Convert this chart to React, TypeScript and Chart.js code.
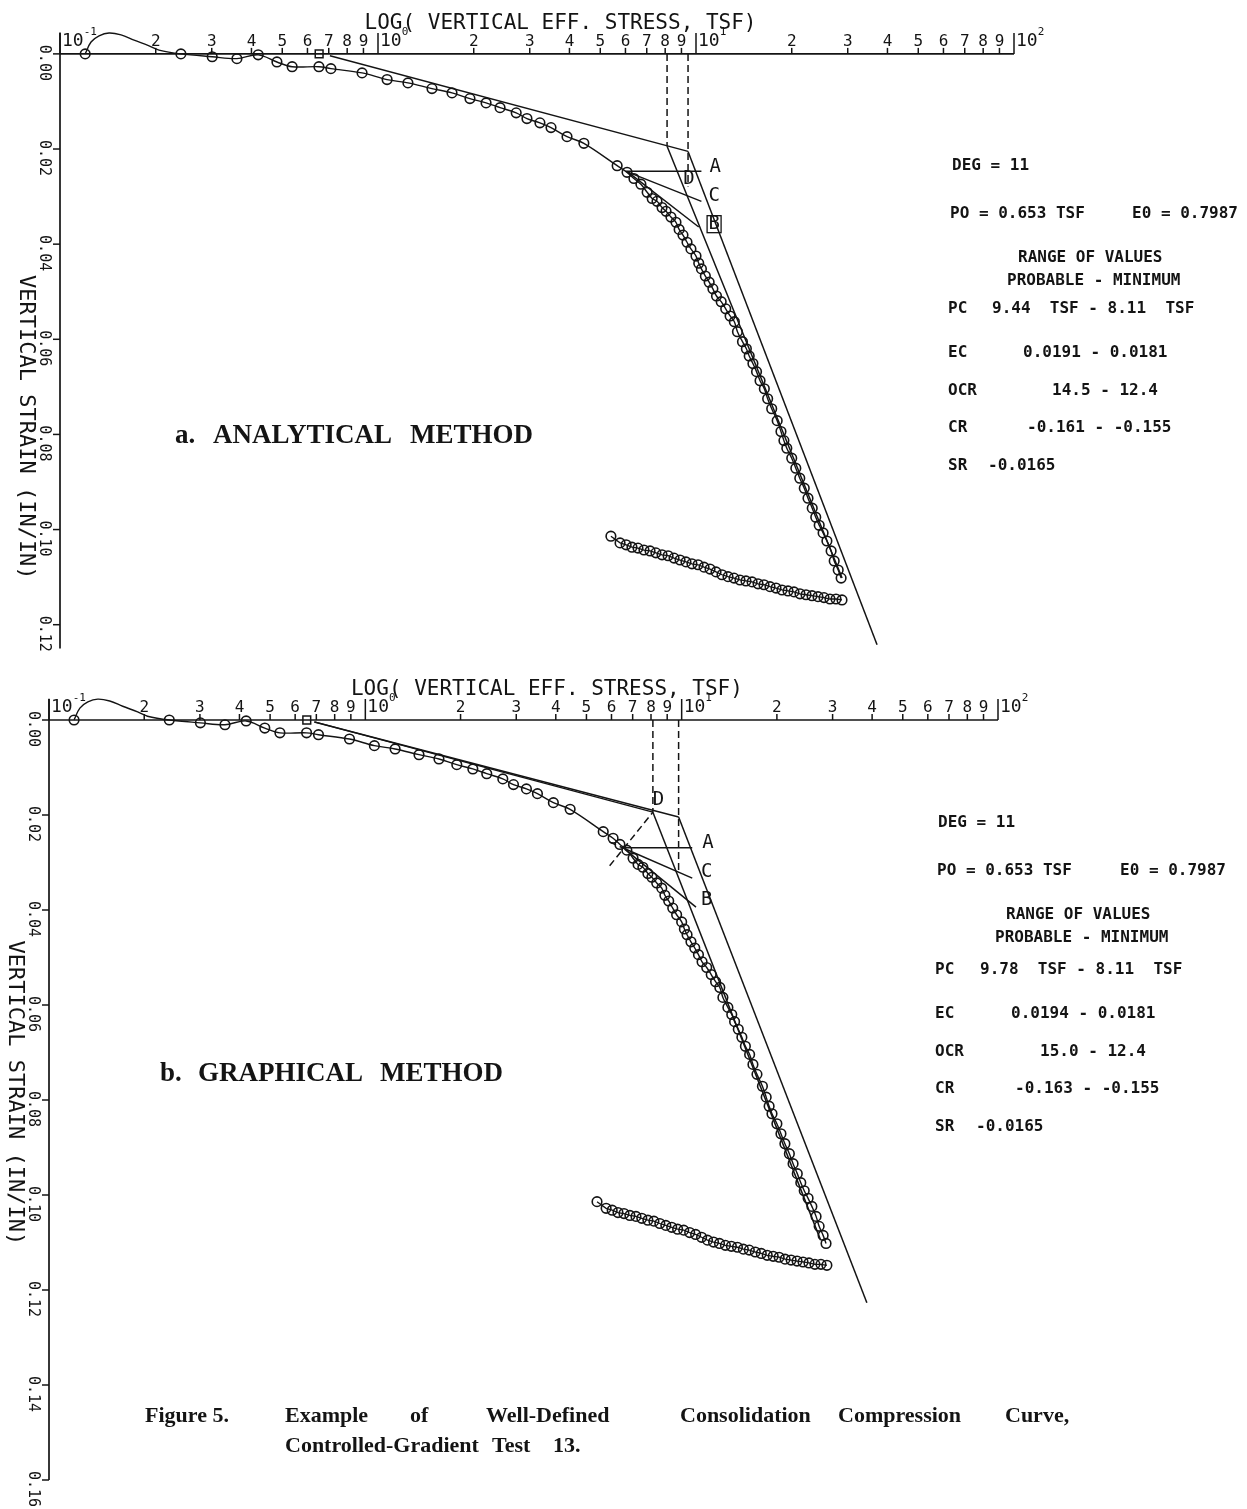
import React, { useEffect, useRef } from "react";
import { Chart, registerables } from "chart.js";

Chart.register(...registerables);

// ---------------- data ----------------
// Loading branch: effective vertical stress (TSF) / vertical strain (in/in)
const loadStress = [
  0.12, 0.24, 0.301, 0.36, 0.42, 0.481, 0.537, 0.652, 0.711, 0.891, 1.068, 1.242, 1.478,
  1.709, 1.946, 2.187, 2.42, 2.72, 2.94, 3.23, 3.5, 3.93, 4.44, 5.65, 6.07, 6.38,
  6.71, 7.02, 7.28, 7.54, 7.82, 8.05, 8.34, 8.65, 8.85, 9.1, 9.37, 9.64, 10.0, 10.2, 10.4,
  10.7, 11.0, 11.3, 11.6, 12.0, 12.4, 12.8, 13.2, 13.5, 14.0, 14.4, 14.7, 15.1, 15.5, 15.9,
  16.4, 16.8, 17.3, 18.0, 18.5, 18.9, 19.3, 20.0, 20.6, 21.2, 21.9, 22.5, 23.2, 23.8, 24.4,
  25.1, 25.8, 26.6, 27.2, 28.0, 28.6,
];
const loadStrain = [
  0.0, 0.0, 0.0006, 0.001, 0.0002, 0.0017, 0.0027, 0.0027, 0.0031, 0.004, 0.0054, 0.0061, 0.0073,
  0.0082, 0.0094, 0.0103, 0.0113, 0.0124, 0.0136, 0.0145, 0.0155, 0.0174, 0.0188, 0.0235, 0.0249, 0.0262,
  0.0274, 0.0291, 0.0304, 0.031, 0.0323, 0.0331, 0.0343, 0.0354, 0.0369, 0.0381, 0.0396, 0.041, 0.0425, 0.044, 0.0452,
  0.0467, 0.048, 0.0494, 0.0509, 0.0521, 0.0536, 0.0551, 0.0563, 0.0584, 0.0605, 0.062, 0.0635, 0.0651, 0.0668, 0.0687,
  0.0704, 0.0725, 0.0746, 0.0771, 0.0794, 0.0813, 0.0829, 0.085, 0.0871, 0.0892, 0.0913, 0.0934, 0.0955, 0.0974, 0.0991,
  0.1007, 0.1024, 0.1045, 0.1066, 0.1085, 0.1102,
];
// Overshoot of the plotted smoothing curve at the start of the test
const bumpStress = [0.12, 0.1252, 0.1327, 0.1426, 0.1556, 0.171, 0.1906, 0.2048, 0.24];
const bumpStrain = [0.0, -0.0025, -0.0038, -0.0044, -0.004, -0.0029, -0.0017, -0.0008, 0.0];
// Unloading (rebound) branch
const unloadStress = [
  5.4, 5.77, 6.03, 6.29, 6.57, 6.86, 7.17, 7.48, 7.82, 8.17, 8.53, 8.91, 9.3, 9.71, 10.15,
  10.6, 11.07, 11.56, 12.07, 12.61, 13.17, 13.75, 14.36, 15.01, 15.67, 16.36, 17.09, 17.85,
  18.64, 19.47, 20.33, 21.23, 22.18, 23.16, 24.19, 25.26, 26.38, 27.56, 28.78,
];
const unloadStrain = [
  0.1014, 0.1028, 0.1032, 0.1037, 0.1039, 0.1043, 0.1045, 0.1049, 0.1053, 0.1055, 0.106, 0.1064,
  0.1068, 0.1072, 0.1074, 0.1079, 0.1083, 0.1089, 0.1095, 0.1099, 0.1102, 0.1106, 0.1108, 0.111,
  0.1114, 0.1116, 0.112, 0.1123, 0.1127, 0.1129, 0.1131, 0.1135, 0.1137, 0.1139, 0.1141, 0.1143,
  0.1146, 0.1146, 0.1148,
];
// In-situ overburden stress marker (PO)
const poStress = [0.653];
const poStrain = [0.0];

// ---------------- axis ticks ----------------
const decadeExps = [-1, 0, 1, 2];
const decadeExpLabels = ["-1", "0", "1", "2"];
const minorMultipliers = [2, 3, 4, 5, 6, 7, 8, 9];
const minorLabels = ["2", "3", "4", "5", "6", "7", "8", "9"];
const topStrainTicks = [0, 0.02, 0.04, 0.06, 0.08, 0.1, 0.12];
const topStrainLabels = ["0.00", "0.02", "0.04", "0.06", "0.08", "0.10", "0.12"];
const botStrainTicks = [0, 0.02, 0.04, 0.06, 0.08, 0.1, 0.12, 0.14, 0.16];
const botStrainLabels = ["0.00", "0.02", "0.04", "0.06", "0.08", "0.10", "0.12", "0.14", "0.16"];
const xTitle = "LOG( VERTICAL EFF. STRESS, TSF)";
const yTitle = "VERTICAL STRAIN (IN/IN)";

// ---------------- construction lines (stress, strain) ----------------
// a. analytical method
const aRecompStress = [0.706, 9.44];
const aRecompStrain = [0.0004, 0.0205];
const aVirginMinStress = [8.11, 28.8];
const aVirginMinStrain = [0.0194, 0.1102];
const aVirginProbStress = [9.44, 37.1];
const aVirginProbStrain = [0.0205, 0.1242];
const aHorizStress = [6.03, 10.4];
const aHorizStrain = [0.0247, 0.0247];
const aTangentStress = [6.03, 10.4];
const aTangentStrain = [0.0247, 0.031];
const aLineBStress = [6.07, 10.2];
const aLineBStrain = [0.0247, 0.0364];
const aDashMinStress = [8.11, 8.11];
const aDashMinStrain = [0.0, 0.0194];
const aDashProbStress = [9.44, 9.44];
const aDashProbStrain = [0.0, 0.0279];
// b. graphical method
const bRecompMinStress = [0.69, 8.11];
const bRecompMinStrain = [0.0004, 0.0194];
const bRecompProbStress = [0.69, 9.78];
const bRecompProbStrain = [0.0004, 0.0204];
const bVirginMinStress = [8.11, 27.5];
const bVirginMinStrain = [0.0194, 0.1095];
const bVirginProbStress = [9.78, 38.5];
const bVirginProbStrain = [0.0204, 0.1227];
const bHorizStress = [6.5, 10.8];
const bHorizStrain = [0.0269, 0.0269];
const bTangentStress = [6.5, 10.8];
const bTangentStrain = [0.0269, 0.0333];
const bTangentBackStress = [5.92, 6.5];
const bTangentBackStrain = [0.0257, 0.0269];
const bLineBStress = [6.6, 11.1];
const bLineBStrain = [0.0272, 0.0394];
const bDiagStress = [5.92, 8.11];
const bDiagStrain = [0.0307, 0.0194];
const bDashMinStress = [8.11, 8.11];
const bDashMinStrain = [0.0, 0.0194];
const bDashProbStress = [9.78, 9.78];
const bDashProbStrain = [0.0, 0.0322];

// ---------------- text of the result blocks ----------------
const degText = "DEG = 11";
const poText = "PO = 0.653 TSF";
const e0Text = "E0 = 0.7987";
const rangeTitles = ["RANGE OF VALUES", "PROBABLE - MINIMUM"];
const paramNames = ["PC", "EC", "OCR", "CR", "SR"];
const aParamValues = ["9.44  TSF - 8.11  TSF", "0.0191 - 0.0181", "14.5 - 12.4", "-0.161 - -0.155", "-0.0165"];
const bParamValues = ["9.78  TSF - 8.11  TSF", "0.0194 - 0.0181", "15.0 - 12.4", "-0.163 - -0.155", "-0.0165"];
const aMethodWords = ["a.", "ANALYTICAL", "METHOD"];
const bMethodWords = ["b.", "GRAPHICAL", "METHOD"];
const captionLine1 = ["Figure 5.", "Example", "of", "Well-Defined", "Consolidation", "Compression", "Curve,"];
const captionLine2 = ["Controlled-Gradient", "Test", "13."];

const INK = "#141414";
const MONO = "'DejaVu Sans Mono', 'Liberation Mono', monospace";
const SERIF = "'Liberation Serif', 'Times New Roman', serif";

type Pt = { x: number; y: number };
const pts = (xs: number[], ys: number[]): Pt[] => xs.map((x, i) => ({ x, y: ys[i] }));

interface Letter { t: string; x: number; y: number; boxed?: boolean }
interface Panel {
  key: string;
  top: number;
  height: number;
  pad: { left: number; right: number; top: number; bottom: number };
  yMin: number;
  yMax: number;
  yAxisTop: number;
  yAxisEnd: number;
  ticks: number[];
  tickLabels: string[];
  lines: { xs: number[]; ys: number[]; dash?: boolean }[];
  letters: Letter[];
  block: {
    deg: [number, number];
    po: [number, number];
    e0: [number, number];
    range: [number, number][];
    nameX: number;
    valueX: number[];
    rowY: number[];
    values: string[];
  };
  method: { words: string[]; x: number[]; y: number };
  caption: boolean;
}

function seg(ctx: CanvasRenderingContext2D, x1: number, y1: number, x2: number, y2: number) {
  ctx.beginPath();
  ctx.moveTo(x1, y1);
  ctx.lineTo(x2, y2);
  ctx.stroke();
}

function makePlugin(panel: Panel) {
  return {
    id: "plotter_" + panel.key,
    beforeDatasetsDraw(chart: any) {
      const ctx: CanvasRenderingContext2D = chart.ctx;
      const xs = chart.scales.x;
      const ys = chart.scales.y;
      const X = (v: number) => xs.getPixelForValue(v);
      const Y = (v: number) => ys.getPixelForValue(v);
      const y0 = Y(0);
      const xL = X(0.1);
      const xR = X(100);
      ctx.save();
      ctx.strokeStyle = INK;
      ctx.fillStyle = INK;
      ctx.lineWidth = 1.7;
      // axes lines
      seg(ctx, xL, y0, xR, y0);
      seg(ctx, xL, Y(panel.yAxisTop), xL, Y(panel.yAxisEnd));
      // x ticks
      decadeExps.forEach((e, i) => {
        const dv = Math.pow(10, e);
        const px = X(dv);
        ctx.lineWidth = 1.5;
        seg(ctx, px, y0, px, y0 - 21);
        ctx.textAlign = "left";
        ctx.textBaseline = "alphabetic";
        ctx.font = `18px ${MONO}`;
        ctx.fillText("10", px + 2, y0 - 8);
        const w = ctx.measureText("10").width;
        ctx.font = `11px ${MONO}`;
        ctx.fillText(decadeExpLabels[i], px + 2 + w, y0 - 19);
        if (e < 2) {
          minorMultipliers.forEach((m, j) => {
            const mx = X(m * dv);
            seg(ctx, mx, y0, mx, y0 - 6);
            ctx.font = `16px ${MONO}`;
            ctx.textAlign = "center";
            ctx.fillText(minorLabels[j], mx, y0 - 8);
          });
        }
      });
      // y ticks
      panel.ticks.forEach((v, i) => {
        const py = Y(v);
        ctx.lineWidth = 1.5;
        seg(ctx, xL - 7, py, xL, py);
        ctx.save();
        ctx.translate(xL - 16, py + 9);
        ctx.rotate(Math.PI / 2);
        ctx.font = `15px ${MONO}`;
        ctx.textAlign = "center";
        ctx.textBaseline = "middle";
        ctx.fillText(panel.tickLabels[i], 0, 0);
        ctx.restore();
      });
      // axis titles
      ctx.font = `21px ${MONO}`;
      ctx.textAlign = "center";
      ctx.textBaseline = "alphabetic";
      ctx.fillText(xTitle, X(3.75), y0 - 25);
      ctx.save();
      ctx.translate(xL - 34, Y(0.0785));
      ctx.rotate(Math.PI / 2);
      ctx.font = `22px ${MONO}`;
      ctx.textBaseline = "middle";
      ctx.fillText(yTitle, 0, 0);
      ctx.restore();
      ctx.restore();
    },
    afterDatasetsDraw(chart: any) {
      const ctx: CanvasRenderingContext2D = chart.ctx;
      const xs = chart.scales.x;
      const ys = chart.scales.y;
      ctx.save();
      ctx.fillStyle = INK;
      ctx.strokeStyle = INK;
      ctx.lineWidth = 1.3;
      // construction letters
      ctx.font = `19px ${MONO}`;
      ctx.textAlign = "center";
      ctx.textBaseline = "middle";
      panel.letters.forEach((l) => {
        const lx = xs.getPixelForValue(l.x);
        const ly = ys.getPixelForValue(l.y);
        ctx.fillText(l.t, lx, ly);
        if (l.boxed) ctx.strokeRect(lx - 7, ly - 8.5, 14, 17);
      });
      // result block
      const b = panel.block;
      ctx.textAlign = "left";
      ctx.textBaseline = "alphabetic";
      ctx.font = `bold 16px ${MONO}`;
      ctx.fillText(degText, b.deg[0], b.deg[1]);
      ctx.fillText(poText, b.po[0], b.po[1]);
      ctx.fillText(e0Text, b.e0[0], b.e0[1]);
      rangeTitles.forEach((t, i) => ctx.fillText(t, b.range[i][0], b.range[i][1]));
      paramNames.forEach((n, i) => {
        ctx.fillText(n, b.nameX, b.rowY[i]);
        ctx.fillText(b.values[i], b.valueX[i], b.rowY[i]);
      });
      // method label
      ctx.font = `bold 27px ${SERIF}`;
      panel.method.words.forEach((w, i) => ctx.fillText(w, panel.method.x[i], panel.method.y));
      // caption
      if (panel.caption) {
        ctx.font = `bold 22px ${SERIF}`;
        const x1 = [145, 285, 410, 486, 680, 838, 1005];
        captionLine1.forEach((w, i) => ctx.fillText(w, x1[i], 757));
        const x2 = [285, 492, 553];
        captionLine2.forEach((w, i) => ctx.fillText(w, x2[i], 787));
      }
      ctx.restore();
    },
  };
}

function buildConfig(panel: Panel): any {
  const lineSets = panel.lines.map((l) => ({
    data: pts(l.xs, l.ys),
    showLine: true,
    borderColor: INK,
    borderWidth: 1.5,
    borderDash: l.dash ? [7, 4] : [],
    pointRadius: 0,
    tension: 0,
    fill: false,
  }));
  const curveStress = bumpStress.concat(loadStress.slice(2));
  const curveStrain = bumpStrain.concat(loadStrain.slice(2));
  return {
    type: "scatter",
    data: {
      datasets: [
        ...lineSets,
        {
          data: pts(curveStress, curveStrain),
          showLine: true,
          borderColor: INK,
          borderWidth: 1.4,
          pointRadius: 0,
          tension: 0.35,
          fill: false,
        },
        {
          data: pts(loadStress, loadStrain),
          showLine: false,
          pointRadius: 4.8,
          pointBorderWidth: 1.6,
          pointBorderColor: INK,
          pointBackgroundColor: "rgba(0,0,0,0)",
        },
        {
          data: pts(unloadStress, unloadStrain),
          showLine: true,
          borderColor: INK,
          borderWidth: 1.3,
          tension: 0,
          pointRadius: 4.8,
          pointBorderWidth: 1.6,
          pointBorderColor: INK,
          pointBackgroundColor: "rgba(0,0,0,0)",
        },
        {
          data: pts(poStress, poStrain),
          showLine: false,
          pointStyle: "rect",
          pointRadius: 5.5,
          pointBorderWidth: 1.5,
          pointBorderColor: INK,
          pointBackgroundColor: "rgba(0,0,0,0)",
        },
      ],
    },
    options: {
      responsive: false,
      maintainAspectRatio: false,
      animation: false,
      events: [],
      layout: { padding: panel.pad },
      plugins: {
        legend: { display: false },
        title: { display: false },
        tooltip: { enabled: false },
      },
      scales: {
        x: { type: "logarithmic", min: 0.1, max: 100, display: false },
        y: { type: "linear", min: panel.yMin, max: panel.yMax, reverse: true, display: false },
      },
    },
    plugins: [makePlugin(panel)],
  };
}

const topPanel: Panel = {
  key: "a",
  top: 0,
  height: 665,
  pad: { left: 60, right: 233, top: 22.96, bottom: 4.5 },
  yMin: -0.0065,
  yMax: 0.127,
  yAxisTop: -0.0045,
  yAxisEnd: 0.125,
  ticks: topStrainTicks,
  tickLabels: topStrainLabels,
  lines: [
    { xs: aRecompStress, ys: aRecompStrain },
    { xs: aVirginMinStress, ys: aVirginMinStrain },
    { xs: aVirginProbStress, ys: aVirginProbStrain },
    { xs: aHorizStress, ys: aHorizStrain },
    { xs: aTangentStress, ys: aTangentStrain },
    { xs: aLineBStress, ys: aLineBStrain },
    { xs: aDashMinStress, ys: aDashMinStrain, dash: true },
    { xs: aDashProbStress, ys: aDashProbStrain, dash: true },
  ],
  letters: [
    { t: "A", x: 11.5, y: 0.0237 },
    { t: "C", x: 11.4, y: 0.0299 },
    { t: "B", x: 11.4, y: 0.0358, boxed: true },
    { t: "D", x: 9.5, y: 0.0264 },
  ],
  block: {
    deg: [952, 170],
    po: [950, 218],
    e0: [1132, 218],
    range: [
      [1018, 262],
      [1007, 285],
    ],
    nameX: 948,
    valueX: [992, 1023, 1052, 1027, 988],
    rowY: [313, 357, 395, 432, 470],
    values: aParamValues,
  },
  method: { words: aMethodWords, x: [175, 213, 410], y: 443 },
  caption: false,
};

const botPanel: Panel = {
  key: "b",
  top: 665,
  height: 844,
  pad: { left: 49, right: 249, top: 24.125, bottom: 14.75 },
  yMin: -0.0065,
  yMax: 0.163,
  yAxisTop: -0.0045,
  yAxisEnd: 0.16,
  ticks: botStrainTicks,
  tickLabels: botStrainLabels,
  lines: [
    { xs: bRecompMinStress, ys: bRecompMinStrain },
    { xs: bRecompProbStress, ys: bRecompProbStrain },
    { xs: bVirginMinStress, ys: bVirginMinStrain },
    { xs: bVirginProbStress, ys: bVirginProbStrain },
    { xs: bHorizStress, ys: bHorizStrain },
    { xs: bTangentStress, ys: bTangentStrain },
    { xs: bTangentBackStress, ys: bTangentBackStrain, dash: true },
    { xs: bLineBStress, ys: bLineBStrain },
    { xs: bDiagStress, ys: bDiagStrain, dash: true },
    { xs: bDashMinStress, ys: bDashMinStrain, dash: true },
    { xs: bDashProbStress, ys: bDashProbStrain, dash: true },
  ],
  letters: [
    { t: "D", x: 8.45, y: 0.0168 },
    { t: "A", x: 12.1, y: 0.0259 },
    { t: "C", x: 12.0, y: 0.032 },
    { t: "B", x: 12.0, y: 0.0379 },
  ],
  block: {
    deg: [938, 162],
    po: [937, 210],
    e0: [1120, 210],
    range: [
      [1006, 254],
      [995, 277],
    ],
    nameX: 935,
    valueX: [980, 1011, 1040, 1015, 976],
    rowY: [309, 353, 391, 428, 466],
    values: bParamValues,
  },
  method: { words: bMethodWords, x: [160, 198, 380], y: 416 },
  caption: true,
};

function ChartPanel({ panel }: { panel: Panel }) {
  const ref = useRef<HTMLCanvasElement>(null);
  useEffect(() => {
    if (!ref.current) return;
    const chart = new Chart(ref.current, buildConfig(panel));
    return () => chart.destroy();
  }, [panel]);
  return (
    <canvas
      ref={ref}
      width={1247}
      height={panel.height}
      style={{ position: "absolute", left: 0, top: panel.top, width: 1247, height: panel.height }}
    />
  );
}

export default function App() {
  return (
    <div
      style={{
        position: "absolute",
        left: 0,
        top: 0,
        width: 1247,
        height: 1509,
        background: "#ffffff",
        overflow: "hidden",
      }}
    >
      <ChartPanel panel={topPanel} />
      <ChartPanel panel={botPanel} />
    </div>
  );
}
